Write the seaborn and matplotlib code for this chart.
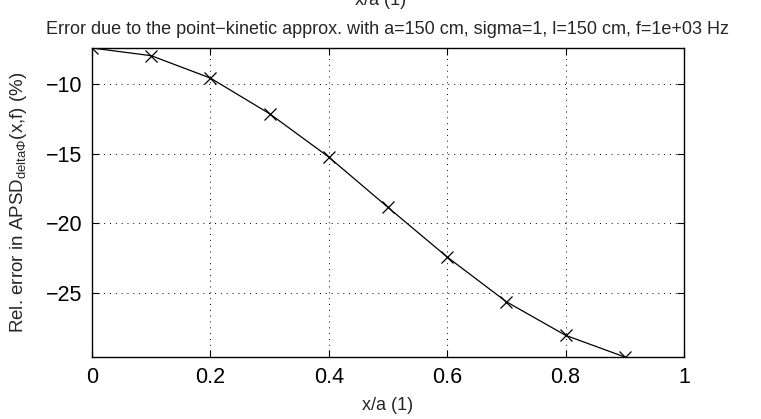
import matplotlib
matplotlib.use("Agg")
import matplotlib.pyplot as plt
import seaborn as sns
import pandas as pd

x_over_a = [0.0, 0.1, 0.2, 0.3, 0.4, 0.5, 0.6, 0.7, 0.8, 0.9]
rel_error = [-7.45, -8.0, -9.6, -12.15, -15.25, -18.85, -22.4, -25.6, -28.0, -29.55]
x_ticks = [0, 0.2, 0.4, 0.6, 0.8, 1]
x_tick_labels = ["0", "0.2", "0.4", "0.6", "0.8", "1"]
y_ticks = [-25, -20, -15, -10]
y_tick_labels = ["\u221225", "\u221220", "\u221215", "\u221210"]

sns.set_style("white")
plt.rcParams["font.family"] = ["Liberation Sans", "DejaVu Sans"]
plt.rcParams["mathtext.fontset"] = "custom"
plt.rcParams["mathtext.rm"] = "Liberation Sans"
plt.rcParams["mathtext.it"] = "Liberation Sans:italic"

df = pd.DataFrame({"x": x_over_a, "y": rel_error})

W, H = 761, 419
fig = plt.figure(figsize=(W / 100, H / 100), dpi=100)
ax = fig.add_axes([92 / W, 1 - 357 / H, (684 - 92) / W, (357 - 48) / H])

sns.lineplot(data=df, x="x", y="y", ax=ax, color="black", linewidth=0.9,
             marker="x", markersize=8, markeredgewidth=0.9, markeredgecolor="black")

ax.set_xlim(0, 1)
ax.set_ylim(min(rel_error), max(rel_error))
ax.set_xticks(x_ticks)
ax.set_xticklabels(x_tick_labels)
ax.set_yticks(y_ticks)
ax.set_yticklabels(y_tick_labels)
ax.tick_params(direction="in", length=5, width=0.8, labelsize=15.5, top=True, right=True,
               bottom=True, left=True, pad=7, colors="black")
ax.grid(True, linestyle=(0, (1, 5)), color="black", linewidth=0.7)
for s in ax.spines.values():
    s.set_color("black")
    s.set_linewidth(1.0)
    s.set_visible(True)

ax.set_xlabel("x/a (1)", fontsize=13)
ax.xaxis.set_label_coords(0.5, -(405 - 357) / (357 - 48), transform=ax.transAxes)
ax.xaxis.label.set_va("center")
ax.set_ylabel(r"Rel. error in APSD$_{\mathrm{delta\Phi}}$(x,f) (%)", fontsize=13.5)
ax.yaxis.set_label_coords(-(92 - 19) / (684 - 92), 0.5, transform=ax.transAxes)
ax.yaxis.label.set_va("center")
ax.set_title("Error due to the point\u2212kinetic approx. with a=150 cm, sigma=1, l=150 cm, f=1e+03 Hz",
             fontsize=13, pad=10)
fig.text(0.5, 1 - 5 / H, "x/a (1)", ha="center", va="baseline", fontsize=13)

fig.savefig("out.png", dpi=100, facecolor="white")
